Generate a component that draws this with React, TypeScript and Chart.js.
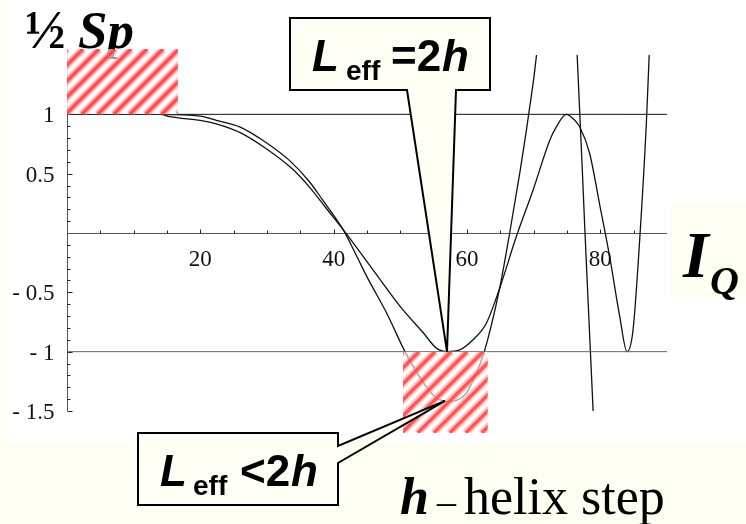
import { useEffect, useRef } from 'react';
import { Chart, registerables } from 'chart.js';

Chart.register(...registerables);

const W = 746;
const H = 524;

// ½ Sp versus I_Q for the effective length equal to two helix steps
const curveEqX = [0, 5, 10, 14, 15.4, 20.4, 22.4, 26.2, 29.9, 33.7, 36.4, 39, 41.4, 45.9, 50, 53.5, 55.4, 57, 58.9, 60.9, 62.9, 64.9, 67.4, 69.9, 72.4, 73.4, 74.9, 75.9, 76.9, 78.4, 79.9, 81.4, 82.9, 84.0, 84.9, 85.9, 86.9, 87.4];
const curveEqY = [1, 1, 1, 1, 0.98, 0.945, 0.92, 0.84, 0.71, 0.545, 0.385, 0.2, 0.03, -0.31, -0.62, -0.845, -0.97, -1.0, -0.985, -0.9, -0.76, -0.465, -0.03, 0.36, 0.78, 0.895, 1.0, 0.965, 0.895, 0.67, 0.24, -0.2, -0.7, -1.0, -0.82, -0.06, 0.92, 1.6];

// ½ Sp versus I_Q for the effective length shorter than two helix steps
const curveLessX = [0, 5, 10, 14, 20, 22.4, 25.9, 29.4, 33.4, 36.4, 38.2, 41.4, 43.5, 45, 48, 50.7, 53.5, 55.4, 57.5, 59.9, 61.4, 62.6, 64.9, 66.4, 67.9, 69.2, 70.6, 73.5, 76.4, 77.7, 79.0];
const curveLessY = [1, 1, 1, 1, 0.985, 0.95, 0.895, 0.78, 0.61, 0.43, 0.29, 0.03, -0.2, -0.37, -0.68, -1.0, -1.265, -1.39, -1.42, -1.35, -1.18, -1.0, -0.465, 0, 0.5, 0.98, 1.6, 4, 1.65, 0, -1.6];

const levelValues = [1, -1];

const xMin = 0;
const xMax = 90;
const yMin = -1.5;
const yMax = 1.5;
const xMinorStep = 5;
const yMinorStep = 0.1;
const xTickValues = [20, 40, 60, 80];
const xTickLabels = ['20', '40', '60', '80'];
const yTickValues = [1, 0.5, -0.5, -1, -1.5];
const yTickLabels = ['1', '0.5', '- 0.5', '- 1', '- 1.5'];

// hatched zones in data units: [x0, x1, y0, y1]
const hatchZones = [
  [0, 16.6, 1, 1.55],
  [50.4, 63.1, -1.685, -1],
];

// points the two callouts aim at
const tipEq = [57, -1];
const tipLess = [56.7, -1.415];

const CREAM = '#FEFEF2';
const SERIF = '"Liberation Serif", "Times New Roman", serif';
const SANS = '"Liberation Sans", Arial, sans-serif';

const toPoints = (xs: number[], ys: number[]) => xs.map((x, i) => ({ x, y: ys[i] }));

type Run = { text: string; font: string; x: number; y: number };

function drawRuns(ctx: CanvasRenderingContext2D, runs: Run[]) {
  ctx.fillStyle = '#000';
  ctx.textAlign = 'left';
  ctx.textBaseline = 'alphabetic';
  for (const r of runs) {
    ctx.font = r.font;
    ctx.fillText(r.text, r.x, r.y);
  }
}

const backgroundPlugin = {
  id: 'pageBackground',
  beforeDraw(chart: Chart) {
    const ctx = chart.ctx;
    ctx.save();
    ctx.fillStyle = CREAM;
    ctx.fillRect(0, 0, W, H);
    ctx.fillStyle = '#FFFFFF';
    ctx.fillRect(7, 0, W - 7, 443);
    ctx.restore();
  },
};

const axesPlugin = {
  id: 'originAxes',
  beforeDatasetsDraw(chart: Chart) {
    const ctx = chart.ctx;
    const xs = chart.scales.x;
    const ys = chart.scales.y;
    const x0 = Math.round(xs.getPixelForValue(0)) + 0.5;
    const y0 = Math.round(ys.getPixelForValue(0)) + 0.5;
    ctx.save();
    ctx.strokeStyle = '#555';
    ctx.lineWidth = 1;
    ctx.beginPath();
    ctx.moveTo(xs.getPixelForValue(xMin), y0);
    ctx.lineTo(xs.getPixelForValue(xMax), y0);
    ctx.moveTo(x0, ys.getPixelForValue(yMin));
    ctx.lineTo(x0, ys.getPixelForValue(yMax));
    ctx.stroke();

    ctx.strokeStyle = '#222';
    ctx.beginPath();
    for (let v = xMinorStep; v < xMax - 1e-6; v += xMinorStep) {
      const px = Math.round(xs.getPixelForValue(v)) + 0.5;
      const len = Math.abs(v % 20) < 1e-6 ? 4 : 3;
      ctx.moveTo(px, y0);
      ctx.lineTo(px, y0 - len);
    }
    for (let i = Math.round(yMin / yMinorStep); i <= Math.round(yMax / yMinorStep) - 1; i++) {
      if (i === 0) continue;
      const v = i * yMinorStep;
      const py = Math.round(ys.getPixelForValue(v)) + 0.5;
      const len = i % 5 === 0 ? 5 : 3;
      ctx.moveTo(x0, py);
      ctx.lineTo(x0 + len, py);
    }
    ctx.stroke();

    ctx.fillStyle = '#111';
    ctx.font = `23px ${SERIF}`;
    ctx.textBaseline = 'alphabetic';
    ctx.textAlign = 'center';
    xTickValues.forEach((v, i) => {
      ctx.fillText(xTickLabels[i], xs.getPixelForValue(v), y0 + 32);
    });
    ctx.textAlign = 'right';
    yTickValues.forEach((v, i) => {
      ctx.fillText(yTickLabels[i], x0 - 13, ys.getPixelForValue(v) + 8);
    });
    ctx.restore();
  },
};

function drawHatch(ctx: CanvasRenderingContext2D, l: number, t: number, r: number, b: number) {
  ctx.save();
  ctx.beginPath();
  ctx.rect(l, t, r - l, b - t);
  ctx.clip();
  ctx.fillStyle = 'rgba(255,255,255,0.6)';
  ctx.fillRect(l, t, r - l, b - t);
  const h = b - t;
  const period = 16;
  for (let k = -h - period; k < r - l + period; k += period) {
    ctx.beginPath();
    ctx.moveTo(l + k, b);
    ctx.lineTo(l + k + h, t);
    ctx.strokeStyle = 'rgba(255,150,150,0.55)';
    ctx.lineWidth = 7.5;
    ctx.stroke();
    ctx.strokeStyle = 'rgba(255,60,60,0.8)';
    ctx.lineWidth = 3.5;
    ctx.stroke();
  }
  ctx.restore();
}

const hatchPlugin = {
  id: 'hatchZones',
  afterDatasetsDraw(chart: Chart) {
    const ctx = chart.ctx;
    const xs = chart.scales.x;
    const ys = chart.scales.y;
    for (const [a, b, c, d] of hatchZones) {
      drawHatch(ctx, xs.getPixelForValue(a), ys.getPixelForValue(d), xs.getPixelForValue(b), ys.getPixelForValue(c));
    }
  },
};

// a 200 x 72 speech box; the wedge leaves the box between two anchor points
function drawCallout(
  ctx: CanvasRenderingContext2D,
  left: number,
  top: number,
  wedge: [number, number][],
  tip: [number, number],
  side: 'bottom' | 'right',
) {
  const right = left + 200;
  const bottom = top + 72;
  ctx.beginPath();
  ctx.moveTo(left, top);
  ctx.lineTo(right, top);
  if (side === 'right') {
    ctx.lineTo(wedge[0][0], wedge[0][1]);
    ctx.lineTo(tip[0], tip[1]);
    ctx.lineTo(wedge[1][0], wedge[1][1]);
    ctx.lineTo(right, bottom);
    ctx.lineTo(left, bottom);
  } else {
    ctx.lineTo(right, bottom);
    ctx.lineTo(wedge[1][0], wedge[1][1]);
    ctx.lineTo(tip[0], tip[1]);
    ctx.lineTo(wedge[0][0], wedge[0][1]);
    ctx.lineTo(left, bottom);
  }
  ctx.closePath();
  ctx.fill();
  ctx.stroke();
}

const labelsPlugin = {
  id: 'calloutsAndTitles',
  afterDraw(chart: Chart) {
    const ctx = chart.ctx;
    const xs = chart.scales.x;
    const ys = chart.scales.y;
    ctx.save();
    ctx.lineWidth = 2;
    ctx.lineJoin = 'miter';
    ctx.strokeStyle = '#000';
    ctx.fillStyle = '#FFFFF5';

    drawCallout(
      ctx,
      290,
      18,
      [
        [407, 90],
        [456, 90],
      ],
      [xs.getPixelForValue(tipEq[0]), ys.getPixelForValue(tipEq[1])],
      'bottom',
    );
    ctx.fillStyle = '#FFFFF5';
    drawCallout(
      ctx,
      138,
      433,
      [
        [338, 446],
        [338, 463],
      ],
      [xs.getPixelForValue(tipLess[0]), ys.getPixelForValue(tipLess[1])],
      'right',
    );

    drawRuns(ctx, [
      { text: 'L', font: `italic bold 44px ${SANS}`, x: 312, y: 71 },
      { text: 'eff', font: `bold 28px ${SANS}`, x: 346, y: 80 },
      { text: '=2', font: `bold 44px ${SANS}`, x: 391, y: 71 },
      { text: 'h', font: `italic bold 44px ${SANS}`, x: 442, y: 71 },
    ]);
    drawRuns(ctx, [
      { text: 'L', font: `italic bold 44px ${SANS}`, x: 160, y: 486 },
      { text: 'eff', font: `bold 28px ${SANS}`, x: 193, y: 495 },
      { text: '<2', font: `bold 44px ${SANS}`, x: 240, y: 486 },
      { text: 'h', font: `italic bold 44px ${SANS}`, x: 291, y: 486 },
    ]);

    // axis names
    drawRuns(ctx, [
      { text: '½', font: `bold 54px ${SERIF}`, x: 25, y: 48 },
      { text: 'Sp', font: `italic bold 53px ${SERIF}`, x: 78, y: 48 },
    ]);
    ctx.fillStyle = CREAM;
    ctx.fillRect(670, 205, W - 670, 95);
    drawRuns(ctx, [
      { text: 'I', font: `italic bold 66px ${SERIF}`, x: 683, y: 277 },
      { text: 'Q', font: `italic bold 40px ${SERIF}`, x: 710, y: 294 },
    ]);

    drawRuns(ctx, [
      { text: 'h', font: `italic bold 52px ${SERIF}`, x: 400, y: 514 },
      { text: '–', font: `38px ${SERIF}`, x: 437, y: 514 },
      { text: 'helix step', font: `52px ${SERIF}`, x: 464, y: 514 },
    ]);
    ctx.restore();

    // the upper zone sits over the title's descender
    const [a, b, c, d] = hatchZones[0];
    drawHatch(ctx, xs.getPixelForValue(a), ys.getPixelForValue(d), xs.getPixelForValue(b), ys.getPixelForValue(c));
  },
};

export default function App() {
  const canvasRef = useRef<HTMLCanvasElement>(null);

  useEffect(() => {
    const canvas = canvasRef.current;
    if (!canvas) return;
    const curveStyle = {
      borderColor: '#111',
      borderWidth: 1.3,
      pointRadius: 0,
      fill: false,
      cubicInterpolationMode: 'monotone' as const,
    };
    const chart = new Chart(canvas, {
      type: 'line',
      data: {
        datasets: [
          ...levelValues.map((v, i) => ({
            label: `level ${v}`,
            data: [
              { x: xMin, y: v },
              { x: xMax, y: v },
            ],
            borderColor: i === 0 ? '#111' : '#666',
            borderWidth: 1,
            pointRadius: 0,
            tension: 0,
          })),
          { label: 'L_eff = 2h', data: toPoints(curveEqX, curveEqY), ...curveStyle },
          { label: 'L_eff < 2h', data: toPoints(curveLessX, curveLessY), ...curveStyle },
        ],
      },
      options: {
        responsive: false,
        animation: false,
        devicePixelRatio: 1,
        layout: { padding: { left: 67, right: 79, top: 55, bottom: 113 } },
        plugins: { legend: { display: false }, tooltip: { enabled: false } },
        events: [],
        scales: {
          x: { type: 'linear', min: xMin, max: xMax, display: false },
          y: { type: 'linear', min: yMin, max: yMax, display: false },
        },
      },
      plugins: [backgroundPlugin, axesPlugin, hatchPlugin, labelsPlugin],
    });
    return () => chart.destroy();
  }, []);

  return (
    <div style={{ position: 'absolute', left: 0, top: 0, width: W, height: H }}>
      <canvas ref={canvasRef} width={W} height={H} style={{ display: 'block', width: W, height: H }} />
    </div>
  );
}
